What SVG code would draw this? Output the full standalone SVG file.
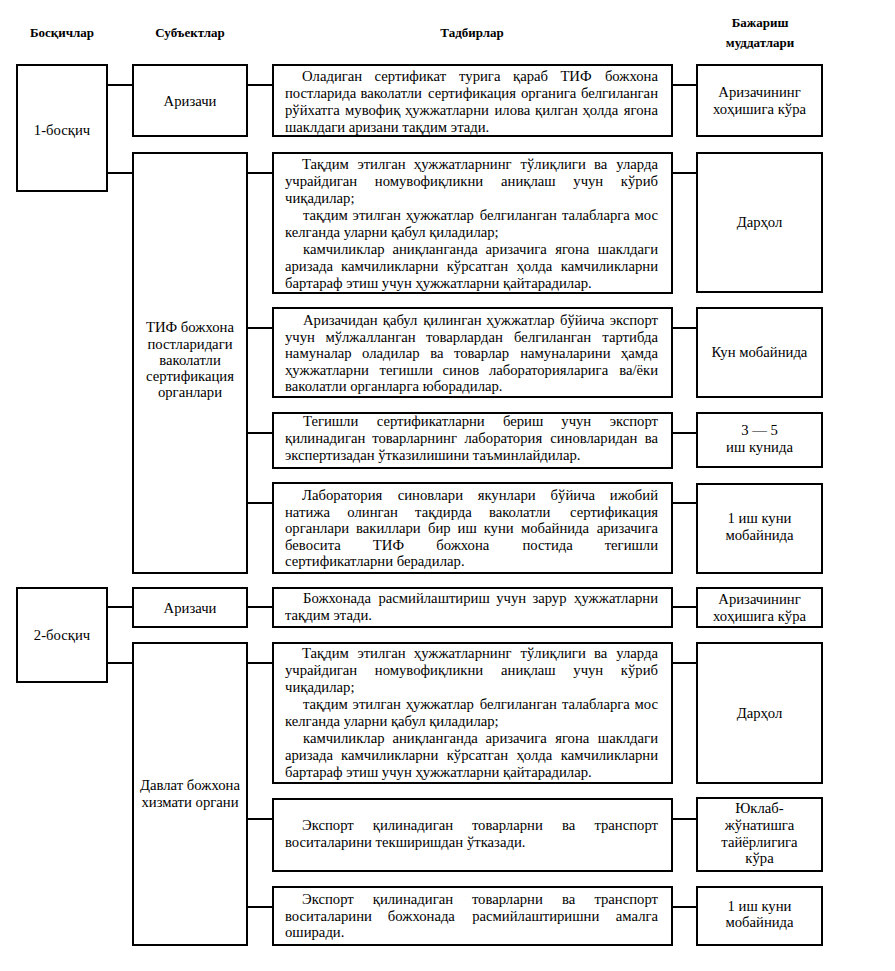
<svg xmlns="http://www.w3.org/2000/svg" width="895" height="971" viewBox="0 0 895 971">
<style>
.box{fill:#fff;stroke:#000;stroke-width:2}
.ln{stroke:#000;stroke-width:2;fill:none}
text{font-family:"Liberation Serif","Times New Roman",serif;font-size:14.7px;fill:#000}
.c{text-anchor:middle}
.h{font-weight:bold;font-size:13px;text-anchor:middle}
.e{text-anchor:end}
</style>
<rect width="895" height="971" fill="#fff"/>
<g id="headers">
<text class="h" x="62" y="37">Босқичлар</text>
<text class="h" x="190" y="37">Субъектлар</text>
<text class="h" x="472" y="37">Тадбирлар</text>
<text class="h" x="760" y="27">Бажариш</text>
<text class="h" x="760" y="47">муддатлари</text>
</g>
<g id="connectors">
<path class="ln" d="M107 85H133M247 85H273M672 85H697"/>
<path class="ln" d="M107 173H133M247 173H273M672 173H697"/>
<path class="ln" d="M247 328H273M672 328H697"/>
<path class="ln" d="M247 433H273M672 433H697"/>
<path class="ln" d="M247 503H273M672 503H697"/>
<path class="ln" d="M107 607H133M247 607H273M672 607H697"/>
<path class="ln" d="M107 663H133M247 663H273M672 663H697"/>
<path class="ln" d="M247 819H273M672 819H697"/>
<path class="ln" d="M247 907H273M672 907H697"/>
</g>
<g id="stage1"><rect class="box" x="17" y="65" width="90" height="126"/><text class="c" x="62" y="135">1-босқич</text></g>
<g id="stage2"><rect class="box" x="17" y="588" width="90" height="94"/><text class="c" x="62" y="640">2-босқич</text></g>
<g id="subj1"><rect class="box" x="133" y="65" width="114" height="71"/><text class="c" x="190" y="106">Аризачи</text></g>
<g id="subj2"><rect class="box" x="133" y="153" width="114" height="420"/>
<text class="c" x="190" y="332">ТИФ божхона</text>
<text class="c" x="190" y="348.5">постларидаги</text>
<text class="c" x="190" y="365">ваколатли</text>
<text class="c" x="190" y="381">сертификация</text>
<text class="c" x="190" y="397">органлари</text></g>
<g id="subj3"><rect class="box" x="133" y="588" width="114" height="39"/><text class="c" x="190" y="613">Аризачи</text></g>
<g id="subj4"><rect class="box" x="133" y="643" width="114" height="302"/>
<text class="c" x="190" y="790">Давлат божхона</text>
<text class="c" x="190" y="807">хизмати органи</text></g>

<g id="act1"><rect class="box" x="273" y="65" width="399" height="71"/>
<text y="81"><tspan x="302">Оладиган</tspan> <tspan x="374.6">сертификат</tspan> <tspan x="459.1">турига</tspan> <tspan x="513">қараб</tspan> <tspan x="560.4">ТИФ</tspan> <tspan x="658" class="e">божхона</tspan></text>
<text y="98"><tspan x="285">постларида</tspan> <tspan x="360.4">ваколатли</tspan> <tspan x="428">сертификация</tspan> <tspan x="520.9">органига</tspan> <tspan x="658" class="e">белгиланган</tspan></text>
<text y="115"><tspan x="285">рўйхатга</tspan> <tspan x="345">мувофиқ</tspan> <tspan x="405">ҳужжатларни</tspan> <tspan x="494.5">илова</tspan> <tspan x="535.1">қилган</tspan> <tspan x="582.4">ҳолда</tspan> <tspan x="658" class="e">ягона</tspan></text>
<text x="285" y="132">шаклдаги аризани тақдим этади.</text></g>

<g id="act2"><rect class="box" x="273" y="153" width="399" height="140"/>
<text y="169"><tspan x="302">Тақдим</tspan> <tspan x="357.4">этилган</tspan> <tspan x="413.8">ҳужжатларнинг</tspan> <tspan x="520.6">тўлиқлиги</tspan> <tspan x="593.9">ва</tspan> <tspan x="658" class="e">уларда</tspan></text>
<text y="186"><tspan x="285">учрайдиган</tspan> <tspan x="374.8">номувофиқликни</tspan> <tspan x="501.1">аниқлаш</tspan> <tspan x="573.3">учун</tspan> <tspan x="658" class="e">кўриб</tspan></text>
<text x="285" y="203">чиқадилар;</text>
<text y="220"><tspan x="303">тақдим</tspan> <tspan x="352.6">этилган</tspan> <tspan x="405.7">ҳужжатлар</tspan> <tspan x="479.7">белгиланган</tspan> <tspan x="561.9">талабларга</tspan> <tspan x="658" class="e">мос</tspan></text>
<text x="285" y="237">келганда уларни қабул қиладилар;</text>
<text y="254"><tspan x="303">камчиликлар</tspan> <tspan x="392.4">аниқланганда</tspan> <tspan x="485.6">аризачига</tspan> <tspan x="555.2">ягона</tspan> <tspan x="658" class="e">шаклдаги</tspan></text>
<text y="271"><tspan x="285">аризада</tspan> <tspan x="341.1">камчиликларни</tspan> <tspan x="446.7">кўрсатган</tspan> <tspan x="516.4">ҳолда</tspan> <tspan x="658" class="e">камчиликларни</tspan></text>
<text x="285" y="288">бартараф этиш учун ҳужжатларни қайтарадилар.</text></g>

<g id="act3"><rect class="box" x="273" y="308" width="399" height="89"/>
<text y="325"><tspan x="303">Аризачидан</tspan> <tspan x="382.8">қабул</tspan> <tspan x="423.2">қилинган</tspan> <tspan x="486.3">ҳужжатлар</tspan> <tspan x="560">бўйича</tspan> <tspan x="658" class="e">экспорт</tspan></text>
<text y="341.6"><tspan x="285">учун</tspan> <tspan x="325.4">мўлжалланган</tspan> <tspan x="426">товарлардан</tspan> <tspan x="514.1">белгиланган</tspan> <tspan x="658" class="e">тартибда</tspan></text>
<text y="358.2"><tspan x="285">намуналар</tspan> <tspan x="362">оладилар</tspan> <tspan x="430.2">ва</tspan> <tspan x="454">товарлар</tspan> <tspan x="520.2">намуналарини</tspan> <tspan x="658" class="e">ҳамда</tspan></text>
<text y="374.8"><tspan x="285">ҳужжатларни</tspan> <tspan x="379.6">тегишли</tspan> <tspan x="442.6">синов</tspan> <tspan x="488.9">лабораторияларига</tspan> <tspan x="658" class="e">ва/ёки</tspan></text>
<text x="285" y="391.4">ваколатли органларга юборадилар.</text></g>

<g id="act4"><rect class="box" x="273" y="413" width="399" height="55"/>
<text y="426"><tspan x="303">Тегишли</tspan> <tspan x="376.7">сертификатларни</tspan> <tspan x="502.9">бериш</tspan> <tspan x="561.3">учун</tspan> <tspan x="658" class="e">экспорт</tspan></text>
<text y="443"><tspan x="285">қилинадиган</tspan> <tspan x="372.2">товарларнинг</tspan> <tspan x="464.5">лаборатория</tspan> <tspan x="550.2">синовларидан</tspan> <tspan x="658" class="e">ва</tspan></text>
<text x="285" y="460">экспертизадан ўтказилишини таъминлайдилар.</text></g>

<g id="act5"><rect class="box" x="273" y="483" width="399" height="90"/>
<text y="500"><tspan x="302">Лаборатория</tspan> <tspan x="397.7">синовлари</tspan> <tspan x="477.7">якунлари</tspan> <tspan x="550.6">бўйича</tspan> <tspan x="658" class="e">ижобий</tspan></text>
<text y="516.5"><tspan x="285">натижа</tspan> <tspan x="347.3">олинган</tspan> <tspan x="415.1">тақдирда</tspan> <tspan x="488.9">ваколатли</tspan> <tspan x="658" class="e">сертификация</tspan></text>
<text y="533"><tspan x="285">органлари</tspan> <tspan x="356.1">вакиллари</tspan> <tspan x="428">бир</tspan> <tspan x="457.6">иш</tspan> <tspan x="483.7">куни</tspan> <tspan x="520.9">мобайнида</tspan> <tspan x="658" class="e">аризачига</tspan></text>
<text y="549.5"><tspan x="285">бевосита</tspan> <tspan x="372.8">ТИФ</tspan> <tspan x="436.2">божхона</tspan> <tspan x="522.4">постида</tspan> <tspan x="658" class="e">тегишли</tspan></text>
<text x="285" y="566">сертификатларни берадилар.</text></g>

<g id="act6"><rect class="box" x="273" y="588" width="399" height="39"/>
<text y="603"><tspan x="303">Божхонада</tspan> <tspan x="378.4">расмийлаштириш</tspan> <tspan x="496.2">учун</tspan> <tspan x="532.4">зарур</tspan> <tspan x="658" class="e">ҳужжатларни</tspan></text>
<text x="285" y="620">тақдим этади.</text></g>

<g id="act7"><rect class="box" x="273" y="643" width="399" height="140"/>
<text y="658"><tspan x="302">Тақдим</tspan> <tspan x="357.4">этилган</tspan> <tspan x="413.8">ҳужжатларнинг</tspan> <tspan x="520.6">тўлиқлиги</tspan> <tspan x="593.9">ва</tspan> <tspan x="658" class="e">уларда</tspan></text>
<text y="675"><tspan x="285">учрайдиган</tspan> <tspan x="374.8">номувофиқликни</tspan> <tspan x="501.1">аниқлаш</tspan> <tspan x="573.3">учун</tspan> <tspan x="658" class="e">кўриб</tspan></text>
<text x="285" y="692">чиқадилар;</text>
<text y="709"><tspan x="303">тақдим</tspan> <tspan x="352.6">этилган</tspan> <tspan x="405.7">ҳужжатлар</tspan> <tspan x="479.7">белгиланган</tspan> <tspan x="561.9">талабларга</tspan> <tspan x="658" class="e">мос</tspan></text>
<text x="285" y="726">келганда уларни қабул қиладилар;</text>
<text y="743"><tspan x="303">камчиликлар</tspan> <tspan x="392.4">аниқланганда</tspan> <tspan x="485.6">аризачига</tspan> <tspan x="555.2">ягона</tspan> <tspan x="658" class="e">шаклдаги</tspan></text>
<text y="760"><tspan x="285">аризада</tspan> <tspan x="341.1">камчиликларни</tspan> <tspan x="446.7">кўрсатган</tspan> <tspan x="516.4">ҳолда</tspan> <tspan x="658" class="e">камчиликларни</tspan></text>
<text x="285" y="777">бартараф этиш учун ҳужжатларни қайтарадилар.</text></g>

<g id="act8"><rect class="box" x="273" y="799" width="399" height="72"/>
<text y="830"><tspan x="302">Экспорт</tspan> <tspan x="372.8">қилинадиган</tspan> <tspan x="471.9">товарларни</tspan> <tspan x="562.1">ва</tspan> <tspan x="658" class="e">транспорт</tspan></text>
<text x="285" y="847">воситаларини текширишдан ўтказади.</text></g>

<g id="act9"><rect class="box" x="273" y="887" width="399" height="58"/>
<text y="904"><tspan x="302">Экспорт</tspan> <tspan x="372.8">қилинадиган</tspan> <tspan x="471.9">товарларни</tspan> <tspan x="562.1">ва</tspan> <tspan x="658" class="e">транспорт</tspan></text>
<text y="920.5"><tspan x="285">воситаларини</tspan> <tspan x="387.8">божхонада</tspan> <tspan x="472.2">расмийлаштиришни</tspan> <tspan x="658" class="e">амалга</tspan></text>
<text x="285" y="937">оширади.</text></g>

<g id="dl1"><rect class="box" x="697" y="65" width="125" height="71"/>
<text class="c" x="759.5" y="97">Аризачининг</text><text class="c" x="759.5" y="114">хоҳишига кўра</text></g>
<g id="dl2"><rect class="box" x="697" y="153" width="125" height="139"/>
<text class="c" x="759.5" y="227">Дарҳол</text></g>
<g id="dl3"><rect class="box" x="697" y="308" width="125" height="89"/>
<text class="c" x="759.5" y="357">Кун мобайнида</text></g>
<g id="dl4"><rect class="box" x="697" y="413" width="125" height="54"/>
<text class="c" x="759.5" y="435">3 — 5</text><text class="c" x="759.5" y="452">иш кунида</text></g>
<g id="dl5"><rect class="box" x="697" y="484" width="125" height="89"/>
<text class="c" x="759.5" y="523">1 иш куни</text><text class="c" x="759.5" y="540">мобайнида</text></g>
<g id="dl6"><rect class="box" x="697" y="588" width="125" height="39"/>
<text class="c" x="759.5" y="604">Аризачининг</text><text class="c" x="759.5" y="621">хоҳишига кўра</text></g>
<g id="dl7"><rect class="box" x="697" y="643" width="125" height="140"/>
<text class="c" x="759.5" y="718">Дарҳол</text></g>
<g id="dl8"><rect class="box" x="697" y="798" width="125" height="73"/>
<text class="c" x="759.5" y="813">Юклаб-</text><text class="c" x="759.5" y="830">жўнатишга</text><text class="c" x="759.5" y="847">тайёрлигига</text><text class="c" x="759.5" y="863">кўра</text></g>
<g id="dl9"><rect class="box" x="697" y="887" width="125" height="58"/>
<text class="c" x="759.5" y="911">1 иш куни</text><text class="c" x="759.5" y="927">мобайнида</text></g>
</svg>
